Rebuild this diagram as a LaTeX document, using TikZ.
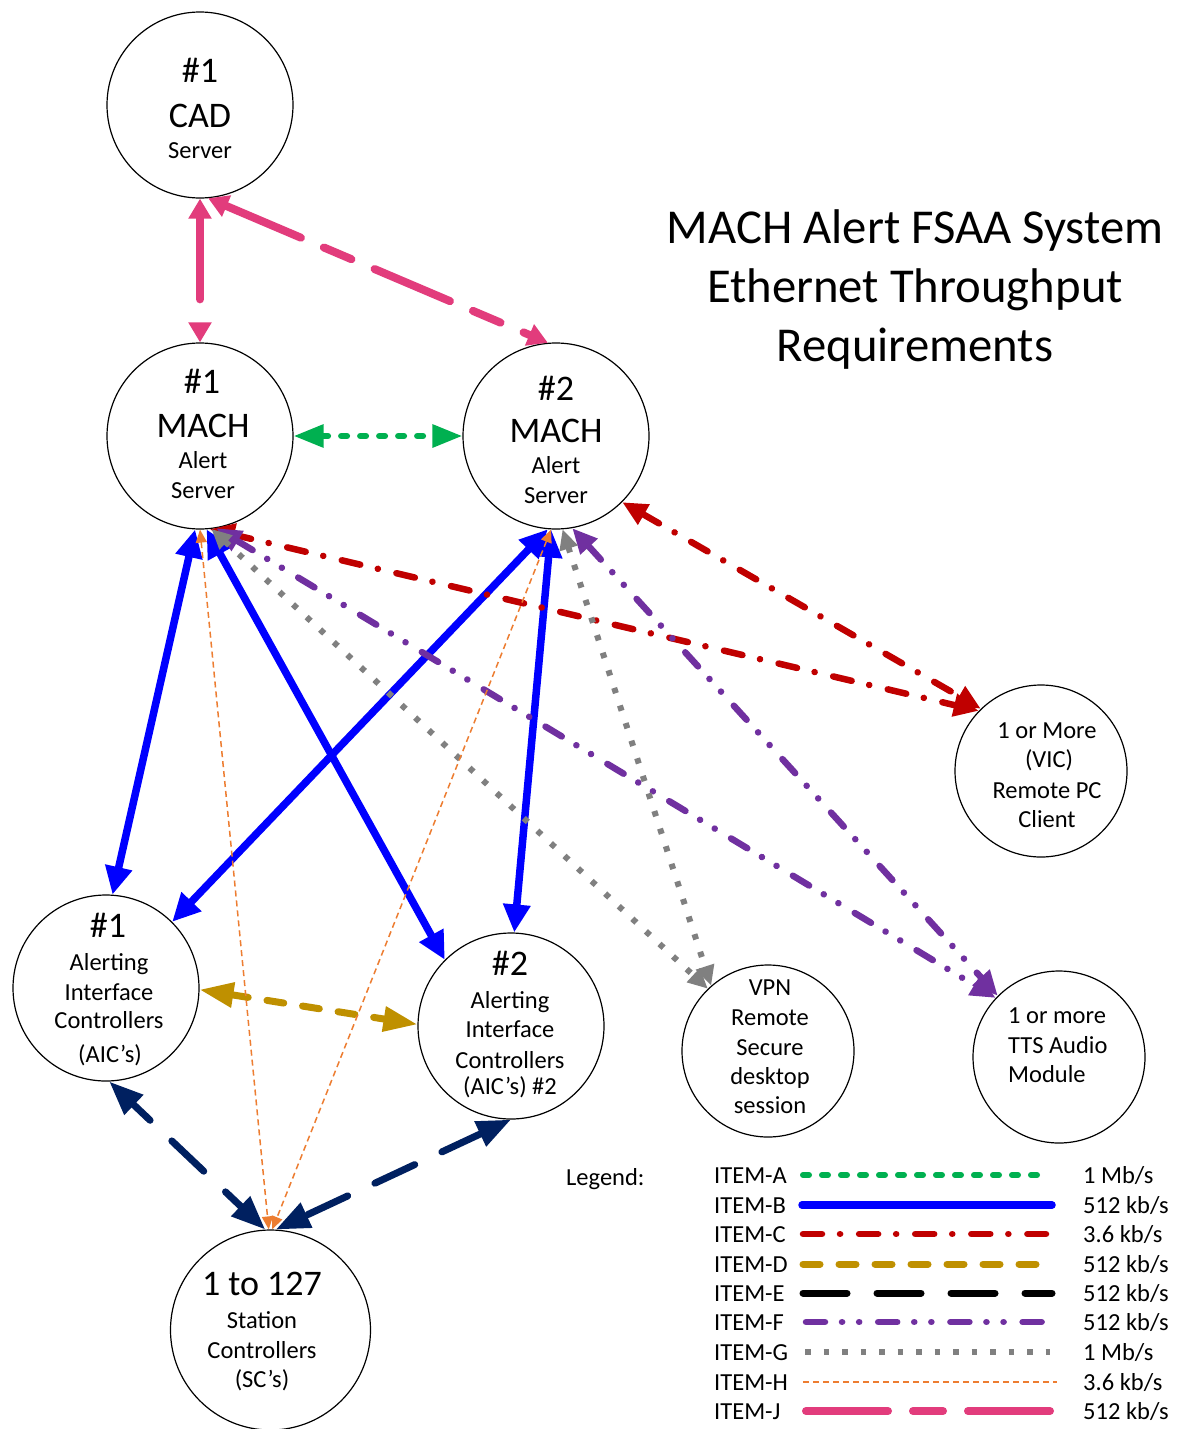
\documentclass[tikz,border=0pt]{standalone}
\usepackage{fontspec}
\setmainfont{Carlito}
\usetikzlibrary{arrows.meta}
\definecolor{cA}{RGB}{0,176,80}
\definecolor{cB}{RGB}{0,0,255}
\definecolor{cC}{RGB}{192,0,0}
\definecolor{cD}{RGB}{191,144,0}
\definecolor{cE}{RGB}{0,32,96}
\definecolor{cF}{RGB}{112,48,160}
\definecolor{cG}{RGB}{128,128,128}
\definecolor{cH}{RGB}{237,125,49}
\definecolor{cJ}{RGB}{226,60,124}
\newcommand\smf{\fontsize{24.5pt}{30pt}\selectfont}
\newcommand\bgf{\fontsize{36pt}{44pt}\selectfont}
\newcommand\ttf{\fontsize{48.7pt}{59pt}\selectfont}
\tikzset{
  circ/.style={draw=black, line width=1.2pt, circle, inner sep=0pt},
  sm/.style={font=\smf, inner sep=0pt, anchor=base},
  bg/.style={font=\bgf, inner sep=0pt, anchor=base},
  tt/.style={font=\ttf, inner sep=0pt, anchor=base},
  lg/.style={font=\smf, inner sep=0pt, anchor=base west},
  lnA/.style={cA, line width=6pt, line cap=round, dash pattern=on 6pt off 13pt},
  lnB/.style={cB, line width=7.5pt},
  lnC/.style={cC, line width=6.5pt, line cap=round, dash pattern=on 19pt off 18pt on 0.1pt off 19pt},
  lnD/.style={cD, line width=7pt, line cap=round, dash pattern=on 17pt off 19pt},
  lnE/.style={line width=7pt, line cap=round, dash pattern=on 44pt off 30pt},
  lnF/.style={cF, line width=6.5pt, line cap=round, dash pattern=on 19pt off 17pt on 0.1pt off 17pt on 0.1pt off 19pt},
  lnG/.style={cG, line width=6pt, dash pattern=on 5.5pt off 13pt},
  lnH/.style={cH, line width=1.5pt, dash pattern=on 6pt off 4pt},
  lnJ/.style={cJ, line width=8pt, line cap=round, dash pattern=on 82pt off 25pt on 30pt off 25pt},
  tA/.style={{Triangle[length=30pt,width=22pt]}-{Triangle[length=30pt,width=22pt]}},
  tB/.style={{Triangle[length=28pt,width=26pt]}-{Triangle[length=28pt,width=26pt]}},
  tC/.style={{Triangle[length=25pt,width=22pt]}-{Triangle[length=25pt,width=22pt]}},
  tD/.style={{Triangle[length=34pt,width=24pt]}-{Triangle[length=34pt,width=24pt]}},
  tE/.style={{Triangle[length=34pt,width=26pt]}-{Triangle[length=34pt,width=26pt]}},
  tG/.style={{Triangle[length=20pt,width=18pt]}-{Triangle[length=20pt,width=18pt]}},
  tH/.style={{Triangle[length=13pt,width=11pt]}-{Triangle[length=13pt,width=11pt]}},
  tJ/.style={{Triangle[length=20pt,width=22pt]}-{Triangle[length=20pt,width=22pt]}},
}
\begin{document}
\begin{tikzpicture}[x=1pt,y=-1pt]
\useasboundingbox (0,0) rectangle (1186,1429);
\fill[white] (0,0) rectangle (1186,1429);

% circles
\node[circ, minimum size=186pt] (cad) at (200,105) {};
\node[circ, minimum size=186pt] (m1) at (200,436) {};
\node[circ, minimum size=186pt] (m2) at (556,436) {};
\node[circ, minimum size=172pt] (vic) at (1041,771) {};
\node[circ, minimum size=186pt] (aic1) at (106,988) {};
\node[circ, minimum size=186pt] (aic2) at (511,1026) {};
\node[circ, minimum size=172pt] (vpn) at (768,1051) {};
\node[circ, minimum size=172pt] (tts) at (1059,1057) {};
\node[circ, minimum size=200pt] (sc) at (270.5,1330) {};

% texts
\node[bg] (cadA) at (200,82) {\#1};
\node[bg] (cadB) at (200,127) {CAD};
\node[sm] (cadC) at (200,158) {Server};

\node[bg] (m1A) at (202,393) {\#1};
\node[bg] (m1B) at (203,437) {MACH};
\node[sm] (m1C) at (203,468) {Alert};
\node[sm] (m1D) at (203,498) {Server};

\node[bg] (m2A) at (556,400) {\#2};
\node[bg] (m2B) at (556,442) {MACH};
\node[sm] (m2C) at (556,473) {Alert};
\node[sm] (m2D) at (556,503) {Server};

\node[bg] (a1A) at (108,937) {\#1};
\node[sm] (a1B) at (109,970) {Alerting};
\node[sm] (a1C) at (109,1000) {Interface};
\node[sm] (a1D) at (109,1028) {Controllers};
\node[sm] (a1E) at (110,1062) {(AIC’s)};

\node[bg] (a2A) at (510,975) {\#2};
\node[sm] (a2B) at (510,1008) {Alerting};
\node[sm] (a2C) at (510,1037) {Interface};
\node[sm] (a2D) at (510,1068) {Controllers};
\node[sm] (a2E) at (510,1094) {(AIC’s) \#2};

\node[bg] (scA) at (262,1295) {1 to 127};
\node[sm] (scB) at (262,1328) {Station};
\node[sm] (scC) at (262,1358) {Controllers};
\node[sm] (scD) at (262,1387) {(SC’s)};

\node[sm] (vicA) at (1047,738) {1 or More};
\node[sm] (vicB) at (1049,767) {(VIC)};
\node[sm] (vicC) at (1047,798) {Remote PC};
\node[sm] (vicD) at (1047,827) {Client};

\node[sm] (vpnA) at (770,995) {VPN};
\node[sm] (vpnB) at (770,1025) {Remote};
\node[sm] (vpnC) at (770,1055) {Secure};
\node[sm] (vpnD) at (770,1084) {desktop};
\node[sm] (vpnE) at (770,1113) {session};

\node[sm, anchor=base west] (ttsA) at (1008,1023) {1 or more};
\node[sm, anchor=base west] (ttsB) at (1008,1053) {TTS Audio};
\node[sm, anchor=base west] (ttsC) at (1008,1082) {Module};

\node[tt] (ti1) at (915,243) {MACH Alert FSAA System};
\node[tt] (ti2) at (915,302) {Ethernet Throughput};
\node[tt] (ti3) at (915,361) {Requirements};

% connectors
\draw[lnJ, tJ] (cad.-90) -- (m1.90);
\draw[lnJ, tJ] (cad.-85) -- (m2.95);
\draw[lnA, tA] (m1.0) -- (m2.180);

\draw[lnB, tB] (m1.-93) -- (aic1.86);
\draw[lnB, tB] (m1.-86) -- (aic2.135);
\draw[lnB, tB] (m2.-95) -- (aic1.45);
\draw[lnB, tB] (m2.-93) -- (aic2.88);

\draw[lnC, tC] (m1.-84) -- (vic.136);
\draw[lnC, tC] (m2.-45) -- (vic.134);

\draw[lnF, tC] (m1.-80) -- (tts.137);
\draw[lnF, tC] (m2.-80) -- (tts.135);

\draw[lnG, tG] (m1.-83) -- (vpn.134);
\draw[lnG, tG] (m2.-86) -- (vpn.131);

\draw[lnD, tD] (aic1.-1) -- (aic2.179);
\draw[lnE, cE, tE, dash phase=20pt] (aic1.-88) -- (sc.93);
\draw[lnE, cE, tE] (aic2.-90) -- (sc.87);

\draw[lnH, tH] (m1.-90) -- (sc.91);
\draw[lnH, tH] (m2.-93) -- (sc.89);

% legend
\node[lg] (lgT) at (566,1185) {Legend:};
\node[lg] (lA) at (714,1183) {ITEM-A};
\node[lg] (lB) at (714,1213) {ITEM-B};
\node[lg] (lC) at (714,1242) {ITEM-C};
\node[lg] (lD) at (714,1272) {ITEM-D};
\node[lg] (lE) at (714,1301) {ITEM-E};
\node[lg] (lF) at (714,1330) {ITEM-F};
\node[lg] (lG) at (714,1360) {ITEM-G};
\node[lg] (lH) at (714,1390) {ITEM-H};
\node[lg] (lJ) at (714,1419) {ITEM-J};
\node[lg] (vA) at (1083,1183) {1 Mb/s};
\node[lg] (vB) at (1083,1213) {512 kb/s};
\node[lg] (vC) at (1083,1242) {3.6 kb/s};
\node[lg] (vD) at (1083,1272) {512 kb/s};
\node[lg] (vE) at (1083,1301) {512 kb/s};
\node[lg] (vF) at (1083,1330) {512 kb/s};
\node[lg] (vG) at (1083,1360) {1 Mb/s};
\node[lg] (vH) at (1083,1390) {3.6 kb/s};
\node[lg] (vJ) at (1083,1419) {512 kb/s};

\draw[lnA] (803,1175) -- (1048,1175);
\draw[lnB, line cap=round] (802,1205) -- (1052,1205);
\draw[lnC] (803,1234) -- (1046,1234);
\draw[lnD] (803,1264) -- (1046,1264);
\draw[lnE] (803,1293) -- (1052,1293);
\draw[lnF] (806,1322) -- (1046,1322);
\draw[lnG] (805,1352) -- (1050,1352);
\draw[lnH] (803,1382) -- (1057,1382);
\draw[lnJ] (806,1411) -- (1056,1411);
\end{tikzpicture}
\end{document}
